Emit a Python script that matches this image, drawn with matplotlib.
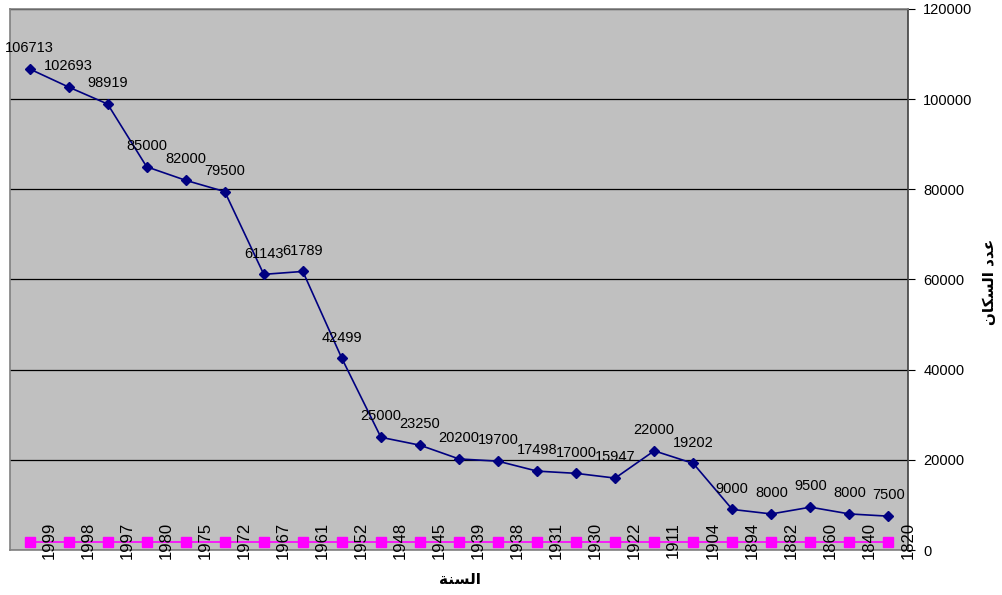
import matplotlib.pyplot as plt
from matplotlib.transforms import blended_transform_factory

plt.rcParams['font.family'] = ['Liberation Sans', 'DejaVu Sans']

# data
years = ['1999', '1998', '1997', '1980', '1975', '1972', '1967', '1961', '1952',
         '1948', '1945', '1939', '1938', '1931', '1930', '1922', '1911', '1904',
         '1894', '1882', '1860', '1840', '1820']
population = [106713, 102693, 98919, 85000, 82000, 79500, 61143, 61789, 42499,
              25000, 23250, 20200, 19700, 17498, 17000, 15947, 22000, 19202,
              9000, 8000, 9500, 8000, 7500]
baseline = [1850] * 23

# Arabic labels in presentation forms, visual (left-to-right) order
y_title = '\uFEE5\uFE8E\uFEDC\uFEB4\uFEDF\uFE8D \uFEA9\uFEAA\uFECB'  # عدد السكان
x_title = '\uFE94\uFEE8\uFEB4\uFEDF\uFE8D'  # السنة

fig = plt.figure(figsize=(10.03, 5.95), dpi=100)
ax = fig.add_axes([10 / 1003, 1 - 550 / 595, 898 / 1003, 541 / 595])
ax.set_facecolor('#C0C0C0')

x = list(range(len(years)))
ax.plot(x, baseline, color='#FF00FF', marker='s', markersize=6.5, linewidth=1.2, zorder=3)
ax.plot(x, population, color='#000080', marker='D', markersize=5.5, linewidth=1.2, zorder=4)

for xi, v in zip(x, population):
    ax.annotate(str(v), (xi, v), xytext=(0, 15), textcoords='offset points',
                ha='center', va='center', fontsize=10.5, color='black', zorder=5)

ax.set_xlim(-0.5, len(years) - 0.5)
ax.set_ylim(0, 120000)
ax.set_yticks(range(0, 120001, 20000))
ax.yaxis.tick_right()
ax.tick_params(axis='y', direction='out', length=5, pad=6, labelsize=10.5,
               color='black', right=True, left=False)
ax.set_xticks([])
ax.grid(axis='y', color='black', linewidth=0.9)
ax.set_axisbelow(True)

for side in ['left', 'top', 'bottom']:
    ax.spines[side].set_color('#808080')
    ax.spines[side].set_linewidth(1.2)
ax.spines['right'].set_color('#404040')
ax.spines['right'].set_linewidth(1.2)

# rotated year labels sitting across the bottom edge, between categories
trans = blended_transform_factory(ax.transData, ax.transAxes)
for i, yr in enumerate(years):
    ax.text(i + 0.5, 0.018, yr, transform=trans, rotation=90,
            ha='center', va='center', fontsize=12, clip_on=False, zorder=6)

fig.text(990 / 1003, 1 - 282 / 595, y_title, rotation=90, ha='center', va='center',
         fontsize=11, fontweight='bold', family='DejaVu Sans')
fig.text(460 / 1003, 1 - 580 / 595, x_title, ha='center', va='center',
         fontsize=11, fontweight='bold', family='DejaVu Sans')

fig.savefig('out.png', dpi=100)
